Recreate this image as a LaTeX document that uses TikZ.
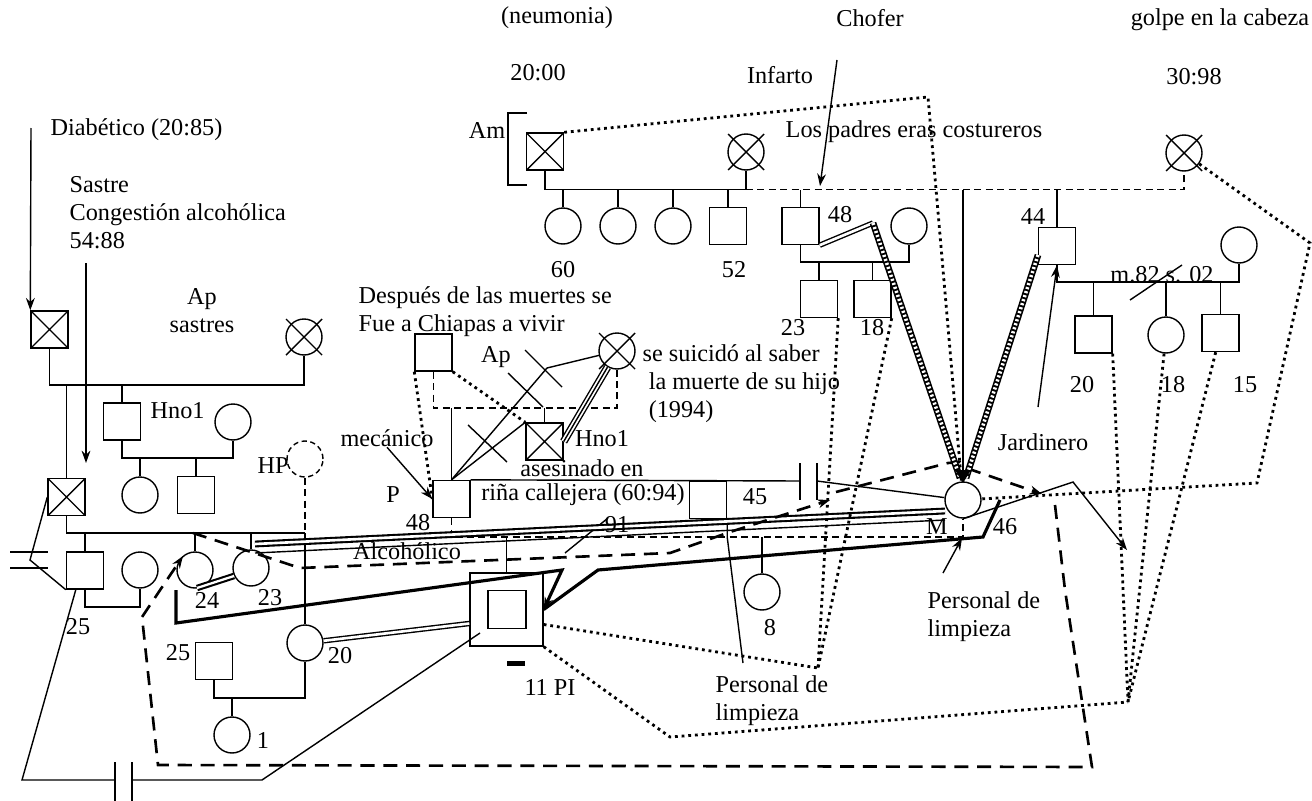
\documentclass[tikz,border=0pt]{standalone}
\usepackage{fontspec}
\setmainfont{Liberation Serif}
\usetikzlibrary{arrows.meta,positioning,calc}

\begin{document}
\begin{tikzpicture}[x=0.02cm, y=-0.02cm, line width=0.8pt,
    font=\fontsize{13.8}{16}\selectfont,
    sq/.style={draw, rectangle, minimum size=0.74cm, inner sep=0pt},
    ci/.style={draw, circle, minimum size=0.72cm, inner sep=0pt},
    xsq/.style={sq, path picture={\draw (path picture bounding box.south west) -- (path picture bounding box.north east)
                                        (path picture bounding box.north west) -- (path picture bounding box.south east);}},
    lbl/.style={inner sep=0pt, align=left},
    dsh/.style={dash pattern=on 4pt off 2.5pt},
    dshk/.style={line width=1.5pt, dash pattern=on 8pt off 5pt},
    dotline/.style={line width=1.6pt, dash pattern=on 1.6pt off 2.2pt},
    dbl/.style={double, double distance=1.5pt},
    trip/.style={draw=white, line width=2.8pt, preaction={draw=black, line width=4.4pt},
                 postaction={draw=black, line width=0.8pt}},
    ladder/.style={line width=3.8pt, postaction={draw=white, line width=2pt, dash pattern=on 1.2pt off 1.2pt}},
    thk/.style={line width=1.8pt},
    arr/.style={-{Stealth[length=7pt,width=5pt]}}]

  \fill[white] (0,0) rectangle (1312,801);
  \useasboundingbox (0,0) rectangle (1312,801);

  %% Left family
  \node[xsq] (gfA) at (49.5,329.5) {};
  \node[ci] (gmA) at (304,337) {};
  \node[sq] (hnoA) at (122,421.5) {};
  \node[ci] (wA) at (233,422) {};
  \node[ci] (kA1) at (140,495) {};
  \node[sq] (kA2) at (196,495) {};
  \node[xsq] (gfB) at (66.5,497) {};
  \node[ci, dash pattern=on 3pt off 2pt] (hp) at (305,459) {};
  \node[sq] (s25) at (85,570.5) {};
  \node[ci] (w25) at (140,570) {};
  \node[ci] (c24) at (195,570) {};
  \node[ci] (c23) at (251,568) {};
  \node[ci] (c20) at (305,643) {};
  \node[sq] (h20) at (214,661) {};
  \node[ci] (c1) at (232,735) {};

  %% Top family
  \node[xsq] (am) at (545,151.5) {};
  \node[ci] (gmB) at (746,152) {};
  \node[ci] (t1) at (563,226) {};
  \node[ci] (t2) at (618,226) {};
  \node[ci] (t3) at (673,226) {};
  \node[sq] (t4) at (728,226) {};
  \node[sq] (s48) at (800.5,226) {};
  \node[ci] (w48) at (909,226) {};
  \node[sq] (s23) at (819,299) {};
  \node[sq] (s18) at (872.5,299) {};
  \node[ci] (gmC) at (1184,153) {};
  \node[sq] (s44) at (1057,246) {};
  \node[ci] (w44) at (1239,245) {};
  \node[sq] (s20) at (1093.5,334.5) {};
  \node[ci] (c18) at (1166,335) {};
  \node[sq] (s15) at (1220.5,333) {};

  %% Middle family
  \node[sq] (gfP) at (433.5,352.5) {};
  \node[ci] (gmP) at (617,351) {};
  \node[sq] (pp) at (451.5,499) {};
  \node[xsq] (hno) at (544.5,441.5) {};
  \node[sq] (s45) at (708,500) {};
  \node[ci] (mm) at (963,500) {};
  \node[ci] (c8) at (762,592) {};
  \node[sq, minimum size=1.46cm] (pl) at (506.5,609.5) {};
  \node[sq, minimum size=0.76cm] (plin) at (507,609.5) {};
  \fill (507,661) rectangle (525,666);

  %% Crosses on the deceased women
  \foreach \n in {gmA,gmB,gmC,gmP}
    \draw ([shift={(-18,-18)}]\n.center) -- ([shift={(18,18)}]\n.center)
          ([shift={(-18,18)}]\n.center) -- ([shift={(18,-18)}]\n.center);

  %% Unions and children, left
  \coordinate (uA) at (150,385);
  \draw (gfA) -- (gfA |- uA) -- (gmA |- uA) -- (gmA);
  \draw (gfB) -- (gfB |- uA);
  \draw (hnoA) -- (hnoA |- uA);
  \coordinate (uB) at (180,458);
  \draw (hnoA) -- (hnoA |- uB) -- (wA |- uB) -- (wA);
  \draw (kA1) -- (kA1 |- uB);
  \draw (kA2) -- (kA2 |- uB);
  \coordinate (uC) at (200,533);
  \draw (gfB) -- (gfB |- uC) -- (hp |- uC);
  \draw[dsh] (hp) -- (hp |- uC);
  \draw (hp |- uC) -- (c20);
  \foreach \k in {s25,c24,c23} \draw (\k) -- (\k |- uC);
  \coordinate (uD) at (110,607);
  \draw (s25) -- (s25 |- uD) -- (w25 |- uD) -- (w25);
  \coordinate (uE) at (260,698);
  \draw (h20) -- (h20 |- uE) -- (c20 |- uE) -- (c20);
  \draw (c1) -- (c1 |- uE);

  %% Unions and children, top
  \coordinate (uF) at (650,189.5);
  \draw (am) -- (am |- uF) -- (gmB |- uF) -- (gmB);
  \foreach \k in {t1,t2,t3,t4} \draw (\k) -- (\k |- uF);
  \draw[dsh] (gmB |- uF) -- (gmC |- uF) -- (gmC);
  \draw (s48) -- (s48 |- uF);
  \draw (s44) -- (s44 |- uF);
  \draw[line width=1.1pt] (mm) -- (mm |- uF);
  \coordinate (uG) at (850,262);
  \draw (s48) -- (s48 |- uG) -- (w48 |- uG) -- (w48);
  \draw (s23) -- (s23 |- uG);
  \draw (s18) -- (s18 |- uG);
  \coordinate (uH) at (1150,282);
  \draw (s44) -- (s44 |- uH) -- (w44 |- uH) -- (w44);
  \foreach \k in {s20,c18,s15} \draw (\k) -- (\k |- uH);
  \draw (1130,300) -- (1182,265);
  \draw (527,113) -- (508,113) -- (508,185) -- (527,185);

  %% Unions and children, middle
  \coordinate (uI) at (520,408);
  \draw[dsh] (gfP) -- (gfP |- uI) -- (gmP |- uI) -- (gmP);
  \draw (pp) -- (pp |- uI);
  \draw (hno) -- (hno |- uI);
  \coordinate (uJ) at (700,537);
  \draw[dsh] (pp) -- (pp |- uJ) -- (mm |- uJ) -- (mm);
  \draw (pl) -- (pl |- uJ);
  \draw (c8) -- (c8 |- uJ);
  \coordinate (persTip) at (743,663);
  \draw (s45.south east) -- (s45.south east |- uJ) -- (persTip);
  \draw (565,553) -- (608,518);

  %% Cut-offs
  \coordinate (cutA) at (800,481);
  \coordinate (cutB) at (817,481);
  \draw (pp.north east) -- (cutA);
  \draw (cutB) -- (mm);
  \draw (800,463) -- (800,500) (817,463) -- (817,500);
  \draw (gfB.west) -- (30,560) -- (s25.south west);
  \draw (10,552) -- (48,552) (10,568) -- (48,568);
  \coordinate (plIn) at (480,633);
  \draw ([xshift=0.2cm]s25.south west) -- (22,780) -- (115,780) (132,780) -- (262,780) -- (plIn);
  \draw (115,762) -- (115,801) (132,762) -- (132,801);

  %% Relations around P
  \draw[dotline] (gfP.south west) -- (pp.west);
  \draw[dotline] (gfP.south east) -- (hno.north west);
  \draw (pp.north) -- (547,368) -- (gmP);
  \draw (pp.north) -- (hno.north west);
  \draw (525,350) -- (562,387);
  \draw (508,373) -- (543,407);
  \draw (468,425) -- (507,462);
  \draw[trip] (gmP) -- (hno.east);

  %% Relation lines
  \draw[line width=1.2pt, double, double distance=1.5pt] (255,544) -- (945,511);
  \draw (255,553) -- (945,520);
  \draw[line width=1.2pt, double, double distance=1.3pt] (197,588) -- (234,576);
  \draw[dbl] (c20) -- ([yshift=-0.28cm]pl.west);
  \draw[thk, arr] (176,590) -- (176,623) -- (562,570) -- (pl.east);
  \draw[thk] (pl.east) -- (598,570) -- (983,537) -- (1000,500);
  \draw[dshk, arr] (193,533) -- (300,568) -- (670,553) -- (730,532) -- (830,500);
  \draw[dshk, arr] (836,492) -- (948,463) -- (960,462) -- (972,470) -- (1042,494);
  \draw[dshk, arr] (1055,505) -- (1065,590) -- (1092,767) -- (158,765) -- (142,617) -- (183,556);
  \draw[dbl] (s48.south east) -- (873,223);
  \draw[ladder] (873,223) -- (960,478);
  \draw[ladder] (1038,255) -- (966,478);
  \fill (955,470) -- (971,470) -- (963,483) -- cycle;
  \draw[arr] (mm.south) -- (1073,482) -- (1127,550);

  %% Dotted lines
  \coordinate (cv1) at (818,668);
  \coordinate (cv2) at (1128,702);
  \draw[dotline] (am.north east) -- (928,97) -- (950,350) -- (mm);
  \draw[dotline] (gmC) -- (1310,243) -- (1257,483) -- (mm);
  \draw[dotline] ([yshift=-0.3cm]pl.east) -- (cv1);
  \draw[dotline] (pl.south east) -- (670,737) -- (cv2);
  \draw[dotline] (s23.south east) -- (cv1);
  \draw[dotline] (s18.south east) -- (cv1);
  \draw[dotline] (s20.south east) -- (cv2);
  \draw[dotline] (c18) -- (cv2);
  \draw[dotline] (s15) -- (cv2);

  %% Annotation arrows
  \draw[arr] (86,263) -- (86,463);
  \draw[arr] (31,128) -- (gfA.north west);
  \draw[arr] (837,60) -- (820,186);
  \draw[arr] (1038,407) -- (s44.south);
  \draw[arr] (943,573) -- (962,538);

  %% Labels
  \node[lbl, anchor=west] (lDiab) at (50,130) {Diabético (20:85)};
  \node[lbl, anchor=west] (lSastre) at (69,213) {Sastre\\Congestión alcohólica\\54:88};
  \node[lbl, align=center] (lApS) at (202,311) {Ap\\sastres};
  \node[lbl, anchor=west] (lHnoA) at (150,411) {Hno1};
  \node[lbl] (lHP) at (273,466) {HP};
  \node[lbl] (mec) at (387,438) {mecánico};
  \draw[arr] (mec.south) -- (pp.west);
  \node[lbl] (lP) at (393,495) {P};
  \node[lbl] (lP48) at (418,523) {48};
  \node[lbl] (lAlc) at (407,551) {Alcohólico};
  \node[lbl] (l91) at (617,525) {91};
  \node[lbl] (l25a) at (78,627) {25};
  \node[lbl] (l24) at (207,600) {24};
  \node[lbl] (l23a) at (270,598) {23};
  \node[lbl] (l25b) at (178,653) {25};
  \node[lbl] (l20a) at (340,656) {20};
  \node[lbl] (l1) at (263,740) {1};
  \node[lbl] (lPl) at (550,687) {11 PI};
  \node[lbl, anchor=west] (persA) at (715,701) {Personal de\\limpieza};
  \node[lbl] (l8) at (770,628) {8};
  \node[lbl, anchor=west] (persB) at (927,617) {Personal de\\limpieza};
  \node[lbl] (lM) at (937,527) {M};
  \node[lbl] (l46) at (1005,527) {46};
  \node[lbl] (lJard) at (1043,442) {Jardinero};
  \node[lbl] (l20b) at (1082,385) {20};
  \node[lbl] (l18b) at (1173,385) {18};
  \node[lbl] (l15) at (1245,385) {15};
  \node[lbl] (lMar) at (1162,275) {m.82 s. 02};
  \node[lbl] (l44) at (1033,217) {44};
  \node[lbl, anchor=west] (lPadres) at (785,132) {Los padres eras costureros};
  \node[lbl] (lGolpe) at (1220,20) {golpe en la cabeza};
  \node[lbl] (l3098) at (1194,77) {30:98};
  \node[lbl] (lChofer) at (870,18) {Chofer};
  \node[lbl] (lInf) at (780,75) {Infarto};
  \node[lbl] (lNeu) at (557,18) {(neumonia)};
  \node[lbl] (l2000) at (538,73) {20:00};
  \node[lbl] (lAm) at (487,130) {Am};
  \node[lbl] (l60) at (563,270) {60};
  \node[lbl] (l52) at (734,270) {52};
  \node[lbl] (l48t) at (840,215) {48};
  \node[lbl] (l23b) at (793,328) {23};
  \node[lbl] (l18a) at (872,328) {18};
  \node[lbl, anchor=west] (lChiapas) at (358,312) {Después de las muertes se\\Fue a Chiapas a vivir};
  \node[lbl] (lApM) at (496,357) {Ap};
  \node[lbl, anchor=west] (lSuic) at (642,384) {se suicidó al saber\\\ la muerte de su hijo\\\ (1994)};
  \node[lbl] (lHno) at (602,439) {Hno1};
  \node[lbl] (lAses) at (582,468) {asesinado en};
  \node[lbl] (lRina) at (583,495) {riña callejera (60:94)};
  \node[lbl] (l45) at (755,497) {45};

\end{tikzpicture}
\end{document}
